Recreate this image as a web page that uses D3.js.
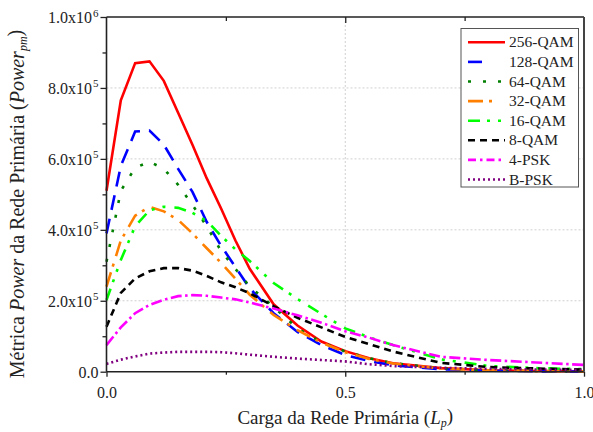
<!DOCTYPE html>
<html>
<head>
<meta charset="utf-8">
<script src="https://cdn.jsdelivr.net/npm/d3@7"></script>
<style>
  html, body { margin: 0; padding: 0; background: #fff; }
  svg { display: block; }
  svg text { font-family: "Liberation Serif", "Times New Roman", serif; }
</style>
</head>
<body>
<svg id="chart" width="593" height="432"></svg>
<script>
// Primary network load (L_p)
const load = [0, 0.03, 0.06, 0.09, 0.12, 0.15, 0.18, 0.21, 0.24, 0.27, 0.30,
              0.35, 0.40, 0.45, 0.50, 0.55, 0.60, 0.70, 0.80, 0.90, 1.0];

// Power metric per modulation scheme
const qam256 = [5.10e5, 7.65e5, 8.70e5, 8.75e5, 8.20e5, 7.30e5, 6.40e5, 5.45e5, 4.60e5, 3.70e5, 2.90e5,
                1.90e5, 1.30e5, 0.85e5, 0.58e5, 0.38e5, 0.24e5, 0.10e5, 0.04e5, 0.02e5, 0.01e5];
const qam128 = [3.90e5, 5.80e5, 6.77e5, 6.80e5, 6.40e5, 5.72e5, 5.07e5, 4.22e5, 3.55e5, 2.95e5, 2.35e5,
                1.65e5, 1.12e5, 0.75e5, 0.47e5, 0.30e5, 0.18e5, 0.07e5, 0.03e5, 0.01e5, 0.005e5];
const qam64  = [3.10e5, 5.10e5, 5.75e5, 5.92e5, 5.72e5, 5.27e5, 4.70e5, 4.10e5, 3.40e5, 2.90e5, 2.40e5,
                1.83e5, 1.22e5, 0.83e5, 0.57e5, 0.38e5, 0.24e5, 0.10e5, 0.04e5, 0.02e5, 0.01e5];
const qam32  = [2.40e5, 3.70e5, 4.40e5, 4.65e5, 4.52e5, 4.28e5, 3.90e5, 3.48e5, 3.07e5, 2.62e5, 2.17e5,
                1.60e5, 1.17e5, 0.82e5, 0.55e5, 0.36e5, 0.23e5, 0.09e5, 0.04e5, 0.02e5, 0.01e5];
const qam16  = [2.02e5, 3.15e5, 4.10e5, 4.55e5, 4.65e5, 4.62e5, 4.48e5, 4.25e5, 3.83e5, 3.45e5, 3.12e5,
                2.50e5, 2.05e5, 1.63e5, 1.22e5, 0.97e5, 0.75e5, 0.35e5, 0.16e5, 0.10e5, 0.07e5];
const qam8   = [1.27e5, 2.22e5, 2.63e5, 2.83e5, 2.92e5, 2.92e5, 2.85e5, 2.70e5, 2.52e5, 2.38e5, 2.21e5,
                1.85e5, 1.52e5, 1.25e5, 0.98e5, 0.78e5, 0.57e5, 0.25e5, 0.13e5, 0.09e5, 0.06e5];
const psk4   = [0.75e5, 1.25e5, 1.65e5, 1.88e5, 2.03e5, 2.13e5, 2.16e5, 2.14e5, 2.09e5, 2.04e5, 1.95e5,
                1.78e5, 1.59e5, 1.38e5, 1.14e5, 0.96e5, 0.75e5, 0.42e5, 0.33e5, 0.26e5, 0.19e5];
const bpsk   = [0.22e5, 0.34e5, 0.43e5, 0.51e5, 0.54e5, 0.56e5, 0.56e5, 0.56e5, 0.55e5, 0.52e5, 0.48e5,
                0.42e5, 0.37e5, 0.33e5, 0.29e5, 0.21e5, 0.16e5, 0.11e5, 0.08e5, 0.06e5, 0.05e5];

const seriesNames = ["256-QAM", "128-QAM", "64-QAM", "32-QAM", "16-QAM", "8-QAM", "4-PSK", "B-PSK"];
const seriesValues = [qam256, qam128, qam64, qam32, qam16, qam8, psk4, bpsk];

const xTicks = [0, 0.5, 1.0];
const xMinorTicks = [0.25, 0.75];
const yTicks = [0, 2e5, 4e5, 6e5, 8e5, 1e6];
const yMinorTicks = [1e5, 3e5, 5e5, 7e5, 9e5];

// line styles per series
const styles = [
  { color: "#ff0000", dash: null,               legendDash: null },
  { color: "#0000ff", dash: "15,9",             legendDash: "14,40" },
  { color: "#008000", dash: "3,12",             legendDash: "3,12" },
  { color: "#ff8000", dash: "15,6,3,8",         legendDash: "15,6,3,20" },
  { color: "#00ff00", dash: "12,7,3,8,3,9",     legendDash: "12,7,3,8,3,20" },
  { color: "#000000", dash: "7,5",              legendDash: "7,5" },
  { color: "#ff00ff", dash: "11,3.5,2.5,3.5",   legendDash: "8,4,2.5,4" },
  { color: "#800080", dash: "2,3",              legendDash: "2,3" }
];

const svg = d3.select("#chart");
const plot = { left: 106.5, top: 17, right: 584, bottom: 371.7 };
const serif = "'Liberation Serif', 'Times New Roman', serif";

const x = d3.scaleLinear().domain([0, 1]).range([plot.left, plot.right]);
const y = d3.scaleLinear().domain([0, 1e6]).range([plot.bottom, plot.top]);

// gridlines
const grid = svg.append("g").attr("stroke", "#d0d0d0").attr("stroke-width", 1)
  .attr("stroke-dasharray", "2,2");
grid.selectAll("line.h").data(yTicks.filter(t => t > 0 && t < 1e6)).join("line")
  .attr("x1", plot.left).attr("x2", plot.right)
  .attr("y1", d => y(d)).attr("y2", d => y(d));
grid.selectAll("line.v").data(xTicks.filter(t => t > 0 && t < 1)).join("line")
  .attr("y1", plot.top).attr("y2", plot.bottom)
  .attr("x1", d => x(d)).attr("x2", d => x(d));

// curves
const line = d3.line().x(d => x(d[0])).y(d => y(d[1]));
const curves = svg.append("g").attr("fill", "none");
seriesValues.forEach((vals, i) => {
  curves.append("path")
    .datum(load.map((l, j) => [l, vals[j]]))
    .attr("d", line)
    .attr("stroke", styles[i].color)
    .attr("stroke-width", 2.6)
    .attr("stroke-dasharray", styles[i].dash)
    .attr("stroke-linejoin", "miter");
});

// axes
const bottomAxis = d3.axisBottom(x).tickValues(xTicks).tickSize(5).tickPadding(10)
  .tickFormat(d3.format(".1f"));
const gx = svg.append("g").attr("transform", `translate(0,${plot.bottom})`).call(bottomAxis);
const gxMinor = svg.append("g").attr("transform", `translate(0,${plot.bottom})`)
  .call(d3.axisBottom(x).tickValues(xMinorTicks).tickSize(3).tickFormat(""));

const topAxis = svg.append("g").attr("transform", `translate(0,${plot.top})`)
  .call(d3.axisBottom(x).tickValues(xTicks.filter(t => t > 0 && t < 1)).tickSize(6).tickFormat(""));
const topMinor = svg.append("g").attr("transform", `translate(0,${plot.top})`)
  .call(d3.axisBottom(x).tickValues(xMinorTicks).tickSize(4).tickFormat(""));

const leftAxis = d3.axisLeft(y).tickValues(yTicks).tickSize(6).tickFormat("");
const gy = svg.append("g").attr("transform", `translate(${plot.left},0)`).call(leftAxis);
const gyMinor = svg.append("g").attr("transform", `translate(${plot.left},0)`)
  .call(d3.axisLeft(y).tickValues(yMinorTicks).tickSize(4).tickFormat(""));

[gx, gxMinor, topAxis, topMinor, gy, gyMinor].forEach(g => {
  g.attr("font-family", serif);
  g.select(".domain").remove();
  g.selectAll(".tick line").attr("stroke", "#222").attr("stroke-width", 1.3);
});
gx.selectAll(".tick text").attr("font-size", 16).attr("fill", "#222");

// y tick labels with power-of-ten notation
gy.selectAll(".tick").each(function(d) {
  const t = d3.select(this).append("text")
    .attr("x", -8).attr("dy", "0.35em")
    .attr("text-anchor", "end")
    .attr("font-size", 16).attr("fill", "#222");
  if (d === 0) {
    t.text("0.0");
  } else {
    const e = Math.floor(Math.log10(d));
    const m = d / Math.pow(10, e);
    t.append("tspan").text(m.toFixed(1) + "x10");
    t.append("tspan").attr("dx", 1).attr("dy", "-0.6em").attr("font-size", 11).text(e);
  }
});

// frame
const frame = svg.append("g").attr("fill", "none");
frame.append("line").attr("x1", plot.left).attr("x2", plot.right)
  .attr("y1", plot.bottom).attr("y2", plot.bottom).attr("stroke", "#222").attr("stroke-width", 1.6);
frame.append("line").attr("x1", plot.left).attr("x2", plot.right)
  .attr("y1", plot.top).attr("y2", plot.top).attr("stroke", "#222").attr("stroke-width", 1.6);
frame.append("line").attr("x1", plot.left).attr("x2", plot.left)
  .attr("y1", plot.top).attr("y2", plot.bottom).attr("stroke", "#222").attr("stroke-width", 1.6);
frame.append("line").attr("x1", plot.right).attr("x2", plot.right)
  .attr("y1", plot.top).attr("y2", plot.bottom).attr("stroke", "#444").attr("stroke-width", 2);

// axis titles
const xTitle = svg.append("text")
  .attr("x", (plot.left + plot.right) / 2).attr("y", 424)
  .attr("text-anchor", "middle").attr("font-size", 19).attr("fill", "#222");
xTitle.append("tspan").text("Carga da Rede Primária (");
xTitle.append("tspan").attr("font-style", "italic").text("L");
xTitle.append("tspan").attr("font-style", "italic").attr("font-size", 12).attr("dy", "0.25em").text("p");
xTitle.append("tspan").attr("dy", "-0.25em").text(")");

const yTitle = svg.append("text")
  .attr("transform", `translate(24,204) rotate(-90)`)
  .attr("text-anchor", "middle").attr("font-size", 20).attr("fill", "#222");
yTitle.append("tspan").text("Métrica ");
yTitle.append("tspan").attr("font-style", "italic").text("Power");
yTitle.append("tspan").text(" da Rede Primária (");
yTitle.append("tspan").attr("font-style", "italic").text("Power");
yTitle.append("tspan").attr("font-style", "italic").attr("font-size", 12).attr("dy", "0.25em").text("pm");
yTitle.append("tspan").attr("dy", "-0.25em").text(")");

// legend
const legend = svg.append("g");
legend.append("rect")
  .attr("x", 461).attr("y", 28.5).attr("width", 117.5).attr("height", 158.5)
  .attr("fill", "#fff").attr("stroke", "#555").attr("stroke-width", 1);
const rowY = d3.scalePoint().domain(seriesNames).range([42.3, 179.5]);
seriesNames.forEach((name, i) => {
  const cy = rowY(name);
  legend.append("line")
    .attr("x1", 468).attr("x2", 505).attr("y1", cy).attr("y2", cy)
    .attr("stroke", styles[i].color).attr("stroke-width", 2.6)
    .attr("stroke-dasharray", styles[i].legendDash);
  legend.append("text")
    .attr("x", 509).attr("y", cy).attr("dy", "0.33em")
    .attr("font-size", 15.5).attr("fill", "#222").text(name);
});
</script>
</body>
</html>
